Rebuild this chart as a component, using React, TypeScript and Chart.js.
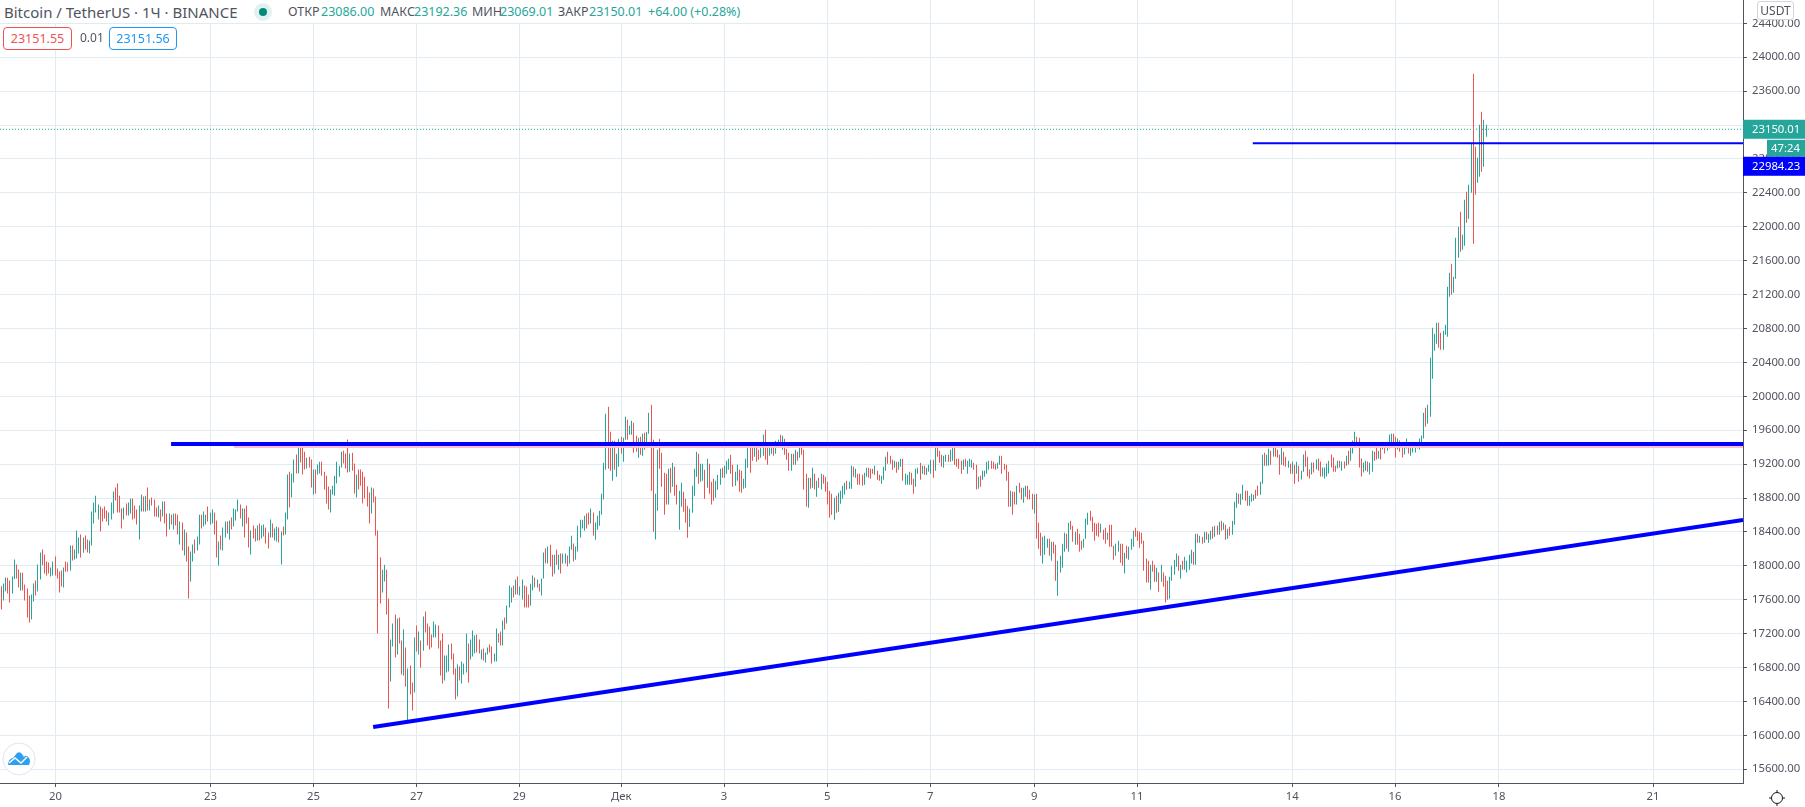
import React, { useEffect, useRef } from 'react';
import { Chart, registerables } from 'chart.js';

Chart.register(...registerables);

const GREEN = '#26a69a';
const RED = '#ef5350';
const BLUE = '#0000ff';
const GRID = '#e1ecf2';
const TEXT = '#50535e';
const FONT = '"Noto Sans", sans-serif';

// часовые бары BTC/USDT: максимум, минимум, направление
const barHigh = [
  17760,17791,17862,17858,17826,17873,18074,18015,17956,17921,
  17917,17779,17732,17650,17661,17791,17826,18015,18156,18192,
  18133,18050,18039,17980,18050,18109,17968,17932,17944,17980,
  18050,18039,18239,18239,18192,18416,18333,18369,18333,18357,
  18310,18298,18640,18746,18828,18722,18699,18675,18699,18652,
  18628,18746,18876,18923,18970,18828,18675,18687,18734,18746,
  18793,18793,18711,18663,18711,18840,18817,18828,18923,18781,
  18805,18781,18687,18711,18663,18758,18758,18616,18616,18604,
  18616,18616,18604,18522,18510,18428,18392,18227,18168,18251,
  18310,18345,18604,18604,18640,18604,18699,18628,18663,18628,
  18534,18286,18357,18451,18522,18522,18534,18569,18675,18663,
  18781,18722,18675,18675,18711,18569,18416,18475,18439,18475,
  18498,18475,18487,18451,18392,18546,18498,18439,18463,18451,
  18404,18463,18628,19076,19111,19088,19253,19312,19394,19434,
  19434,19347,19276,19288,19253,19135,19135,19194,19229,19229,
  19111,19064,18935,18899,18946,19064,19229,19182,19347,19359,
  19324,19489,19324,19335,19206,19076,19135,19135,19111,19052,
  18935,18864,18923,18911,18817,18416,18097,17955,18014,17955,
  17614,17130,17319,17425,17378,17390,17118,17248,17036,16788,
  16824,16623,17154,17295,17225,17118,17401,17460,17319,17283,
  17189,17342,17307,17295,17118,17201,16941,16941,17071,17083,
  16965,16788,16835,16812,16871,16847,17201,17083,17130,17236,
  17177,17189,17130,17012,17024,16977,17036,17071,17048,16965,
  17260,17201,17225,17354,17390,17531,17767,17743,17767,17838,
  17873,17755,17838,17767,17755,17661,17790,17885,17861,17838,
  17790,17849,18156,18203,18227,18250,18132,18132,18191,18132,
  18144,18144,18144,18121,18227,18356,18262,18227,18474,18545,
  18545,18592,18616,18628,18675,18628,18510,18592,18651,18851,
  19217,19795,19877,19582,19476,19476,19323,19500,19523,19512,
  19759,19724,19653,19712,19688,19535,19512,19523,19559,19570,
  19582,19806,19901,19488,18851,19370,19500,19335,19099,19087,
  19146,19158,19217,19170,18957,18887,18981,18875,18792,18710,
  18674,18946,19146,19346,19323,19205,19205,19134,19264,19205,
  18993,19028,19005,19075,19146,19158,19181,19240,19264,19311,
  19193,19111,19193,19134,19122,19028,19264,19417,19417,19417,
  19417,19405,19370,19405,19547,19606,19417,19405,19417,19417,
  19476,19488,19547,19535,19500,19382,19335,19323,19323,19370,
  19346,19429,19429,19370,19087,19040,19040,19158,19087,19005,
  19040,19087,19075,19052,18993,18887,18851,18804,18828,18863,
  18887,18946,18981,19005,18993,19181,19170,19146,19087,19087,
  19075,19099,19158,19158,19146,19146,19181,19122,19075,19064,
  19170,19288,19346,19299,19252,19240,19229,19229,19264,19264,
  19087,19075,19111,19099,19028,19146,19158,19217,19181,19181,
  19158,19193,19252,19252,19429,19429,19358,19311,19299,19311,
  19311,19370,19405,19394,19264,19264,19240,19252,19264,19240,
  19264,19252,19217,19193,19052,19064,19122,19122,19229,19240,
  19240,19229,19205,19217,19299,19299,19205,19193,19111,18887,
  18875,18875,18946,18981,18922,18922,18946,18946,18898,18851,
  18840,18851,18509,18391,18344,18356,18320,18320,18285,18285,
  18250,18061,18120,18261,18391,18379,18509,18533,18474,18403,
  18438,18379,18297,18320,18556,18627,18651,18580,18509,18497,
  18509,18497,18426,18450,18391,18485,18485,18238,18261,18297,
  18261,18261,18155,18238,18226,18320,18415,18450,18415,18403,
  18391,18297,18085,18061,18014,18061,18014,17978,17920,18014,
  17920,17884,17825,17872,18002,18073,18144,18120,18014,18061,
  18108,18061,18132,18191,18167,18379,18379,18356,18344,18403,
  18403,18379,18415,18462,18474,18474,18521,18533,18509,18485,
  18438,18462,18533,18757,18863,18851,18851,18957,18886,18886,
  18827,18851,18839,18898,18945,18992,19311,19335,19311,19382,
  19358,19394,19417,19370,19311,19394,19346,19288,19240,19205,
  19229,19193,19229,19181,19123,19312,19359,19288,19135,19218,
  19218,19253,19265,19230,19159,19159,19206,19241,19312,19277,
  19182,19241,19241,19230,19230,19300,19359,19406,19477,19583,
  19524,19512,19265,19218,19241,19230,19218,19359,19347,19394,
  19359,19430,19465,19430,19465,19548,19559,19559,19524,19501,
  19477,19430,19430,19501,19418,19418,19418,19406,19418,19501,
  19536,19807,19866,19901,20456,20809,20739,20868,20868,20750,
  20774,20845,21293,21458,21564,21411,21870,22000,22177,21906,
  22318,22413,22495,22990,23804,22943,22814,23203,23356,23262,
  23203,
];

const barLow = [
  17484,17591,17701,17673,17567,17673,17846,17850,17744,17708,
  17708,17591,17390,17331,17367,17579,17650,17697,17838,18007,
  17909,17885,17909,17873,17885,17885,17850,17685,17756,17744,
  17929,17932,17944,18062,18074,18086,18145,18097,18153,18192,
  18156,18145,18239,18498,18628,18546,18404,18522,18557,18522,
  18475,18546,18616,18770,18628,18628,18439,18546,18593,18593,
  18616,18546,18557,18487,18310,18640,18640,18640,18652,18652,
  18711,18581,18581,18569,18522,18581,18498,18345,18428,18487,
  18428,18475,18369,18251,18180,18121,18050,17614,17815,18050,
  18145,18180,18251,18439,18463,18487,18522,18487,18498,18369,
  18097,18003,18192,18180,18333,18381,18310,18428,18463,18534,
  18640,18557,18463,18333,18498,18215,18133,18321,18286,18298,
  18298,18321,18345,18263,18204,18333,18333,18298,18286,18274,
  18015,18357,18369,18546,18687,18805,18982,19088,19088,19218,
  19076,19135,19147,19159,18923,18840,18852,19076,19088,19064,
  18899,18734,18663,18628,18840,18828,18970,19052,19159,19206,
  19147,19100,19111,19123,18852,18805,18899,18946,18734,18793,
  18699,18498,18616,18746,18357,17201,17555,17684,17814,17425,
  16317,16635,17048,16918,16953,17083,16718,16706,16576,16175,
  16482,16293,16505,16989,16953,16800,16999,17213,17059,17012,
  17036,17154,17154,17024,16706,16611,16647,16741,16753,16894,
  16718,16423,16458,16647,16611,16718,16741,16623,16894,16930,
  16965,16977,16965,16894,16883,16859,16953,16977,16847,16871,
  16871,17095,17059,17059,17248,17319,17507,17566,17625,17661,
  17661,17649,17602,17507,17507,17507,17531,17708,17743,17743,
  17696,17649,17849,18026,18026,17991,17873,17908,18014,17955,
  17908,18026,18026,17991,18026,18191,18050,18073,18168,18333,
  18439,18415,18439,18486,18498,18356,18309,18427,18474,18604,
  18781,19134,19146,19122,19005,19134,19052,19170,19323,19229,
  19488,19488,19547,19547,19335,19346,19276,19311,19299,19370,
  19409,19559,18887,18402,18312,18651,19146,18934,18604,18722,
  18722,18863,18934,18828,18722,18426,18698,18639,18508,18332,
  18457,18627,18828,19052,18969,18993,19005,18792,18922,18851,
  18722,18769,18804,18898,18957,19040,19040,19087,19134,19087,
  18934,18946,19005,18875,18863,18910,18922,19158,19099,19240,
  19288,19229,19252,19276,19299,19252,19193,19299,19323,19299,
  19323,19394,19394,19370,19311,19252,19122,19122,19193,19193,
  19240,19276,19311,18899,18698,18686,18910,18922,18899,18816,
  18922,18899,18969,18875,18722,18568,18604,18545,18627,18639,
  18733,18792,18840,18898,18910,18910,19052,19040,18957,18957,
  18946,18957,19052,19040,19028,19087,19075,19016,19005,18969,
  19016,19122,19205,19205,19134,19158,19099,19134,19170,19005,
  18957,18957,18957,18957,18851,18934,19087,19016,19087,19075,
  19075,19111,19087,19040,19122,19288,19217,19170,19158,19229,
  19229,19229,19240,19193,19170,19146,19087,19134,19170,19087,
  19170,19158,19134,18899,18910,18934,19016,19052,19087,19134,
  19146,19146,19134,19146,19193,19087,19134,19005,18698,18698,
  18604,18722,18722,18863,18781,18745,18816,18781,18781,18663,
  18616,18320,18202,18120,18026,18132,18214,18120,18061,18144,
  17825,17648,17920,17978,18167,18202,18167,18426,18285,18250,
  18250,18167,18191,18214,18320,18485,18533,18403,18297,18356,
  18344,18391,18309,18261,18309,18226,18226,18073,18120,18167,
  18037,18002,17908,18085,18073,18191,18226,18344,18297,18214,
  18261,17943,17802,17802,17719,17931,17813,17813,17695,17813,
  17754,17566,17601,17613,17825,17896,17990,17943,17849,17955,
  17955,17920,17955,18026,18014,18014,18273,18273,18261,18273,
  18309,18273,18309,18320,18344,18368,18368,18415,18426,18309,
  18320,18356,18368,18485,18686,18733,18721,18780,18768,18709,
  18709,18757,18768,18792,18827,18839,18969,19181,19181,19181,
  19193,19288,19288,19276,19075,19193,19181,19170,19158,19087,
  19087,18969,19087,18993,19017,19111,19170,19053,19029,19076,
  19100,19135,19123,19053,19053,19029,19053,19088,19159,19111,
  19111,19147,19159,19123,19147,19182,19194,19241,19324,19430,
  19442,19159,19053,19100,19123,19111,19076,19111,19241,19253,
  19265,19253,19371,19324,19359,19383,19406,19406,19277,19371,
  19347,19277,19312,19383,19324,19300,19336,19336,19383,19371,
  19430,19501,19642,19677,19760,20208,20538,20621,20573,20550,
  20550,20727,20703,21175,21198,21222,21387,21635,21705,21729,
  21776,22047,22094,22401,21800,22377,22519,22590,22648,22707,
  23061,
];

const barDir = (
  'RGGRRGGRRG RRRRGGRGGR RRRGGRRRRG RRGRGGGRGR RGGGGGRRRR GGGRRRRGRG ' +
  'GRRRGGRGRG RRRGRGRRGR GRRGRGRRGG RGGRGGRGGR RGRGGRGRGG GRGRRRGRRG ' +
  'RGGRRGRGGR GRGGRGGRGR RRGRRGRGGR RRRGGGGGGR RRGRRGRRRR RRGRRRRGGR ' +
  'RGGRGRRGRG RRGRGRGRRR RGGRRRGGGR RRGRGGGRGG GRRGRGGRRG GRRGRGGGRG ' +
  'RGGRRRGGRG RGGRGRRGRG RGGRGGRGGG GGRRGRGGGG GGRRGRGGRG GRGGRRGRGR ' +
  'GGRRGGRRRR GRGRRGGRRR GGGGRGGRGR RRGGGRGGGR RGGRRGGGRR GRRGGRRGGR ' +
  'GGRGRRRGRG RGRRRGRGRG RGRRRRRGRG GGGRGGRGRR RGGRRRGRRG GGRRRGRGGR ' +
  'GGGRRGGRGR GGGRGRRRGG RGGRRRRGRG GGRRGRGGGG RRRGGRRRRG RRGRRGGRRR ' +
  'GRRRGGGRGR RGGGGRGRRG RRRGGGRRRR RGRRGRRRGG RRGRGGGRRR RRRRGRRGRG ' +
  'RRRGGGGRGR GGGGRGRGRG RGGRGRGRGR GRGGGRGGRR GGGRRGGRGG RGRRRGRRGR ' +
  'GRGRGGRRRG RGRRGGGGRR RGRGRGRGGG RRRGGRGGRR GRGRGGGRRG RRGGRGGGRG ' +
  'GGRGGGGGRR GGGGRGGGRG GRGGRRGGRGG'
).replace(/ /g, '');

const yTicks = [15600, 16000, 16400, 16800, 17200, 17600, 18000, 18400, 18800, 19200, 19600, 20000, 20400, 20800, 21200, 21600, 22000, 22400, 22800, 23200, 23600, 24000, 24400];
const xTickPos = [26.2, 98.2, 146.1, 193.9, 241.7, 289.1, 336.9, 384.8, 432.7, 481, 528.8, 600.9, 648.7, 697, 768.6];
const xTickLabels = ['20', '23', '25', '27', '29', 'Дек', '3', '5', '7', '9', '11', '14', '16', '18', '21'];

const X_MIN = 0.4;
const X_MAX = 810.4;

// линии, нарисованные на графике
const resistanceLine = [{ x: 79.9, y: 19437 }, { x: X_MAX, y: 19437 }];
const pinkLine = [{ x: 109.1, y: 19414 }, { x: X_MAX, y: 19414 }];
const supportLine = [{ x: 173.8, y: 16099 }, { x: X_MAX, y: 18541 }];
const breakoutLine = [{ x: 582.6, y: 22984.23 }, { x: X_MAX, y: 22984.23 }];
const lastPriceLine = [{ x: X_MIN, y: 23150.01 }, { x: X_MAX, y: 23150.01 }];

const lastPrice = 23150.01;
const countdown = '47:24';
const linePrice = '22984.23';

// бары на графике ровно в один пиксель, без размытия
const crispBars = {
  id: 'crispBars',
  afterDatasetsUpdate(chart: Chart) {
    chart.data.datasets.forEach((ds: any, i: number) => {
      if (ds.type !== 'bar') return;
      chart.getDatasetMeta(i).data.forEach((el: any) => {
        el.x = Math.floor(el.x) + 0.5;
        el.width = 1;
      });
    });
  },
};

const priceTags = {
  id: 'priceTags',
  afterDraw(chart: Chart) {
    const { ctx } = chart;
    const y = chart.scales.y.getPixelForValue(lastPrice);
    const left = chart.chartArea.right;
    const draw = (x: number, top: number, h: number, bg: string, label: string, tx: number) => {
      ctx.fillStyle = bg;
      ctx.fillRect(x, top, 1805 - x, h);
      ctx.fillStyle = '#ffffff';
      ctx.font = `11.3px ${FONT}`;
      ctx.textBaseline = 'middle';
      ctx.textAlign = 'left';
      ctx.fillText(label, tx, top + h / 2 + 0.5);
    };
    ctx.save();
    draw(left, y - 9.5, 19, GREEN, lastPrice.toFixed(2), 1752);
    draw(1767, y + 10.5, 17, GREEN, countdown, 1771);
    draw(left, y + 27.5, 19, BLUE, linePrice, 1752);
    ctx.restore();
  },
};

const Label = ({ x, y, color, size = 12.5, children }: any) => (
  <span style={{ position: 'absolute', left: x, top: y, color, fontSize: size, lineHeight: '16px', whiteSpace: 'nowrap' }}>{children}</span>
);

const Box = ({ x, w, color, children }: any) => (
  <div style={{ position: 'absolute', left: x, top: 27, width: w, height: 23, boxSizing: 'border-box', border: `1px solid ${color}`, borderRadius: 4, background: '#fff', color, fontSize: 12.5, lineHeight: '21px', textAlign: 'center' }}>{children}</div>
);

export default function App() {
  const canvasRef = useRef<HTMLCanvasElement>(null);

  useEffect(() => {
    if (!canvasRef.current) return;
    const bars = barHigh.map((hi, i) => ({ x: i + 1, y: [barLow[i], hi] }));
    const lineDefaults = { type: 'line', pointRadius: 0, fill: false, tension: 0 };
    const chart = new Chart(canvasRef.current, {
      type: 'bar',
      data: {
        datasets: [
          { ...lineDefaults, data: resistanceLine, borderColor: BLUE, borderWidth: 4, order: 1 },
          { ...lineDefaults, data: supportLine, borderColor: BLUE, borderWidth: 4, order: 1 },
          { ...lineDefaults, data: breakoutLine, borderColor: BLUE, borderWidth: 2, order: 1 },
          { ...lineDefaults, data: pinkLine, borderColor: '#ffc0cb', borderWidth: 4, order: 2 },
          { ...lineDefaults, data: lastPriceLine, borderColor: GREEN, borderWidth: 1, borderDash: [1, 2], order: 2 },
          {
            type: 'bar',
            data: bars,
            order: 3,
            barThickness: 1,
            inflateAmount: 0,
            borderWidth: 0,
            backgroundColor: barDir.split('').map((d) => (d === 'G' ? GREEN : RED)),
          },
        ],
      } as any,
      options: {
        responsive: false,
        animation: false,
        layout: { padding: 0 },
        plugins: { legend: { display: false }, tooltip: { enabled: false } },
        scales: {
          x: {
            type: 'linear',
            offset: false,
            min: X_MIN,
            max: X_MAX,
            afterBuildTicks: (axis: any) => {
              axis.ticks = xTickPos.map((value) => ({ value }));
            },
            afterFit: (axis: any) => {
              axis.height = 24;
              axis.paddingLeft = 0;
              axis.paddingRight = 0;
            },
            grid: { color: GRID, offset: false, tickColor: TEXT, tickLength: 4 },
            border: { color: TEXT, width: 1 },
            ticks: {
              autoSkip: false,
              maxRotation: 0,
              padding: 3,
              color: TEXT,
              font: { family: FONT, size: 11.3 },
              callback: (value: any) => xTickLabels[xTickPos.indexOf(value)],
            },
          },
          y: {
            position: 'right',
            min: 15438,
            max: 24675,
            afterBuildTicks: (axis: any) => {
              axis.ticks = yTicks.map((value) => ({ value }));
            },
            afterFit: (axis: any) => {
              axis.width = 62;
              axis.paddingTop = 0;
              axis.paddingBottom = 0;
            },
            grid: { color: GRID, tickColor: TEXT, tickLength: 4 },
            border: { color: TEXT, width: 1 },
            ticks: {
              padding: 5,
              color: TEXT,
              font: { family: FONT, size: 11.3 },
              callback: (value: any) => Number(value).toFixed(2),
            },
          },
        },
      },
      plugins: [crispBars, priceTags],
    } as any);
    return () => chart.destroy();
  }, []);

  return (
    <div style={{ position: 'absolute', left: 0, top: 0, width: 1805, height: 807, fontFamily: FONT, overflow: 'hidden', background: '#fff' }}>
      <canvas ref={canvasRef} width={1805} height={807} style={{ display: 'block' }} />

      <div style={{ position: 'absolute', left: 0, top: 0, width: 745, height: 23, background: '#fff' }} />
      <Label x={4} y={4} color={TEXT} size={15}>Bitcoin / TetherUS · 1Ч · BINANCE</Label>
      <div style={{ position: 'absolute', left: 254, top: 3, width: 18, height: 18, borderRadius: 9, background: 'rgba(38,166,154,0.15)' }} />
      <div style={{ position: 'absolute', left: 259, top: 8, width: 8, height: 8, borderRadius: 4, background: '#00897b' }} />
      <Label x={288} y={4} color={TEXT}>ОТКР</Label>
      <Label x={321} y={4} color={GREEN}>23086.00</Label>
      <Label x={380} y={4} color={TEXT}>МАКС</Label>
      <Label x={414} y={4} color={GREEN}>23192.36</Label>
      <Label x={472} y={4} color={TEXT}>МИН</Label>
      <Label x={500} y={4} color={GREEN}>23069.01</Label>
      <Label x={558} y={4} color={TEXT}>ЗАКР</Label>
      <Label x={589} y={4} color={GREEN}>23150.01</Label>
      <Label x={648} y={4} color={GREEN}>+64.00 (+0.28%)</Label>

      <Box x={3} w={69} color={RED}>23151.55</Box>
      <Label x={80} y={30} color={TEXT} size={12}>0.01</Label>
      <Box x={109} w={68} color="#2196f3">23151.56</Box>

      <div style={{ position: 'absolute', left: 1757, top: 1, width: 37, height: 19, boxSizing: 'border-box', border: '1px solid #d1d4dc', borderRadius: 3, background: '#fff', color: TEXT, fontSize: 12, lineHeight: '17px', textAlign: 'center' }}>USDT</div>

      <svg style={{ position: 'absolute', left: 2, top: 742 }} width="34" height="34" viewBox="0 0 34 34">
        <circle cx="17" cy="17" r="16" fill="#fff" stroke="#e0e3eb" strokeWidth="1" />
        <path d="M6 23 Q6 17 11 16 L15 11 Q18 9 20 12 L22 15 Q24 12 27 16 Q29 19 27 23 Z" fill="#2f9fef" />
        <path d="M7 21 L13 16 L19 21 L25 15" fill="none" stroke="#fff" strokeWidth="1.4" />
      </svg>

      <svg style={{ position: 'absolute', left: 1768, top: 789 }} width="18" height="18" viewBox="0 0 18 18" fill="none" stroke="#131722" strokeWidth="1">
        <circle cx="9" cy="9" r="5.5" />
        <path d="M9 1V3.5M9 14.5V17M1 9H3.5M14.5 9H17" />
      </svg>
    </div>
  );
}
